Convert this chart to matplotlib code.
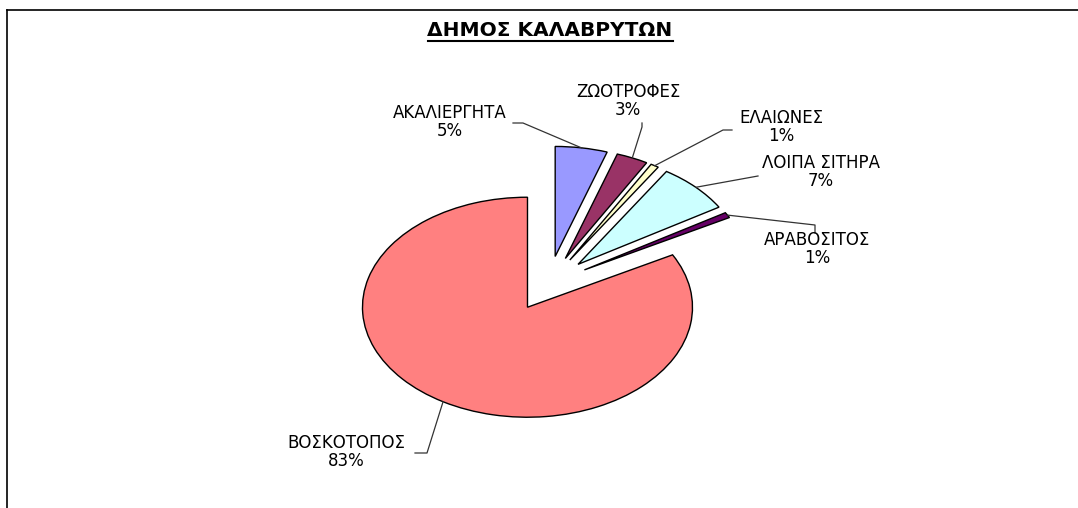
import numpy as np
import matplotlib
matplotlib.use("Agg")
import matplotlib.pyplot as plt
from matplotlib.lines import Line2D

plt.rcParams['font.family'] = ['DejaVu Sans']

# data (percent of area)
labels = ['ΒΟΣΚΟΤΟΠΟΣ', 'ΑΡΑΒΟΣΙΤΟΣ', 'ΛΟΙΠΑ ΣΙΤΗΡΑ', 'ΕΛΑΙΩΝΕΣ', 'ΖΩΟΤΡΟΦΕΣ', 'ΑΚΑΛΙΕΡΓΗΤΑ']
values = [82.9, 0.8, 7.3, 0.8, 3.1, 5.1]
colors = ['#FF8080', '#660066', '#CCFFFF', '#FFFFCC', '#993366', '#9999FF']
title = 'ΔΗΜΟΣ ΚΑΛΑΒΡΥΤΩΝ'

W, H = 1078, 508
fig = plt.figure(figsize=(W / 100, H / 100), dpi=100)

# pie centre / radius in pixels (picture is stretched horizontally)
cx, cy = 548.6, 283.6
rx, ry = 165.0, 110.0


def px(x, y):
    return (x - cx) / rx, (cy - y) / ry


ax = fig.add_axes([0, 0, 1, 1])
wedges, _ = ax.pie(values, explode=[0.25] * len(values), colors=colors,
                   startangle=90, counterclock=True,
                   wedgeprops=dict(edgecolor='black', linewidth=1.0))
ax.set_aspect('auto')
ax.set_xlim(-cx / rx, (W - cx) / rx)
ax.set_ylim(-(H - cy) / ry, cy / ry)
ax.axis('off')

# label positions and leader line starts (pixels)
label_pos = [(346, 452), (817, 249), (821, 172), (781, 127), (628, 101), (450, 122)]
leader_start = [[(415, 453), (427, 453)],
                [(815, 233), (815, 225)],
                [(758, 176)],
                [(732, 130), (723, 130)],
                [(642, 123), (642, 127)],
                [(513, 123), (523, 123)]]

for w, name, v, lp, ls in zip(wedges, labels, values, label_pos, leader_start):
    mid = np.deg2rad((w.theta1 + w.theta2) / 2)
    ex = w.center[0] + w.r * np.cos(mid)
    ey = w.center[1] + w.r * np.sin(mid)
    pts = [px(*p) for p in ls] + [(ex, ey)]
    xs, ys = zip(*pts)
    ax.plot(xs, ys, color='#333333', lw=0.9, clip_on=False)
    tx, ty = px(*lp)
    ax.text(tx, ty, f'{name}\n{v:.0f}%', ha='center', va='center',
            fontsize=12, linespacing=1.05)

# title with underline
fig.text(550 / W, 1 - 31 / H, title, ha='center', va='center',
         fontsize=14.5, fontweight='bold')
fig.add_artist(Line2D([428 / W, 673 / W], [1 - 41 / H, 1 - 41 / H],
                      color='black', lw=1.5))

# chart frame
fig.add_artist(Line2D([7 / W, 1], [1 - 10 / H, 1 - 10 / H], color='black', lw=1.2))
fig.add_artist(Line2D([7 / W, 7 / W], [0, 1 - 10 / H], color='black', lw=1.2))

fig.savefig('out.png', dpi=100)
